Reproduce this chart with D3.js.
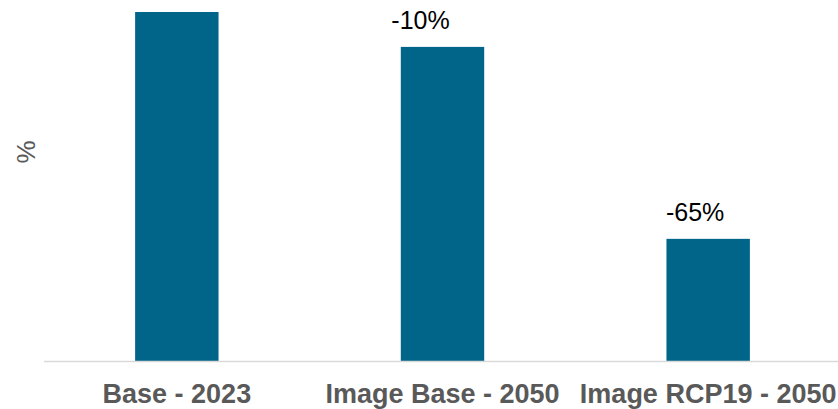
<!DOCTYPE html>
<html>
<head>
<meta charset="utf-8">
<script src="https://cdn.jsdelivr.net/npm/d3@7"></script>
<style>
  html, body { margin: 0; padding: 0; background: #fff; }
  svg { display: block; }
</style>
</head>
<body>
<svg id="chart" width="838" height="409"></svg>
<script>
// Scenario categories and their index (Base 2023 = 100)
const categories = ["Base - 2023", "Image Base - 2050", "Image RCP19 - 2050"];
const values = [100, 90, 35];
const changeLabels = [null, "-10%", "-65%"];
// horizontal nudge of each change label relative to its bar centre
const labelShift = [0, -22, -13];

const svg = d3.select("#chart");
const W = 838;
const FONT = "Liberation Sans, Arial, sans-serif";

const x = d3.scaleBand()
  .domain(categories)
  .range([44, 841])
  .paddingInner(0.686)
  .paddingOuter(0.343);

const y = d3.scaleLinear()
  .domain([0, 100])
  .range([361, 12]);

// bars
svg.append("g")
  .selectAll("rect")
  .data(values)
  .join("rect")
  .attr("x", (d, i) => x(categories[i]))
  .attr("y", d => y(d))
  .attr("width", x.bandwidth())
  .attr("height", d => y(0) - y(d))
  .attr("fill", "#006589");

// baseline
svg.append("line")
  .attr("x1", 44).attr("x2", W)
  .attr("y1", y(0) + 0.5).attr("y2", y(0) + 0.5)
  .attr("stroke", "#d9d9d9")
  .attr("stroke-width", 1.5);

// category axis labels
const xAxis = d3.axisBottom(x).tickSize(0).tickPadding(0);
const gx = svg.append("g")
  .attr("transform", `translate(0,${y(0)})`)
  .call(xAxis);
gx.select(".domain").remove();
gx.selectAll("text")
  .attr("dy", null)
  .attr("y", 41.5)
  .attr("font-family", FONT)
  .attr("font-size", 27)
  .attr("font-weight", "bold")
  .attr("fill", "#595959");

// change labels above bars
const labelled = values
  .map((v, i) => ({ cat: categories[i], v, text: changeLabels[i], dx: labelShift[i] }))
  .filter(d => d.text !== null);

svg.append("g")
  .selectAll("text")
  .data(labelled)
  .join("text")
  .attr("x", d => x(d.cat) + x.bandwidth() / 2 + d.dx)
  .attr("y", d => y(d.v) - 18)
  .attr("text-anchor", "middle")
  .attr("font-family", FONT)
  .attr("font-size", 25)
  .attr("fill", "#000")
  .text(d => d.text);

// y axis title
svg.append("text")
  .attr("transform", "translate(35,152) rotate(-90)")
  .attr("text-anchor", "middle")
  .attr("font-family", FONT)
  .attr("font-size", 26)
  .attr("fill", "#595959")
  .text("%");
</script>
</body>
</html>
